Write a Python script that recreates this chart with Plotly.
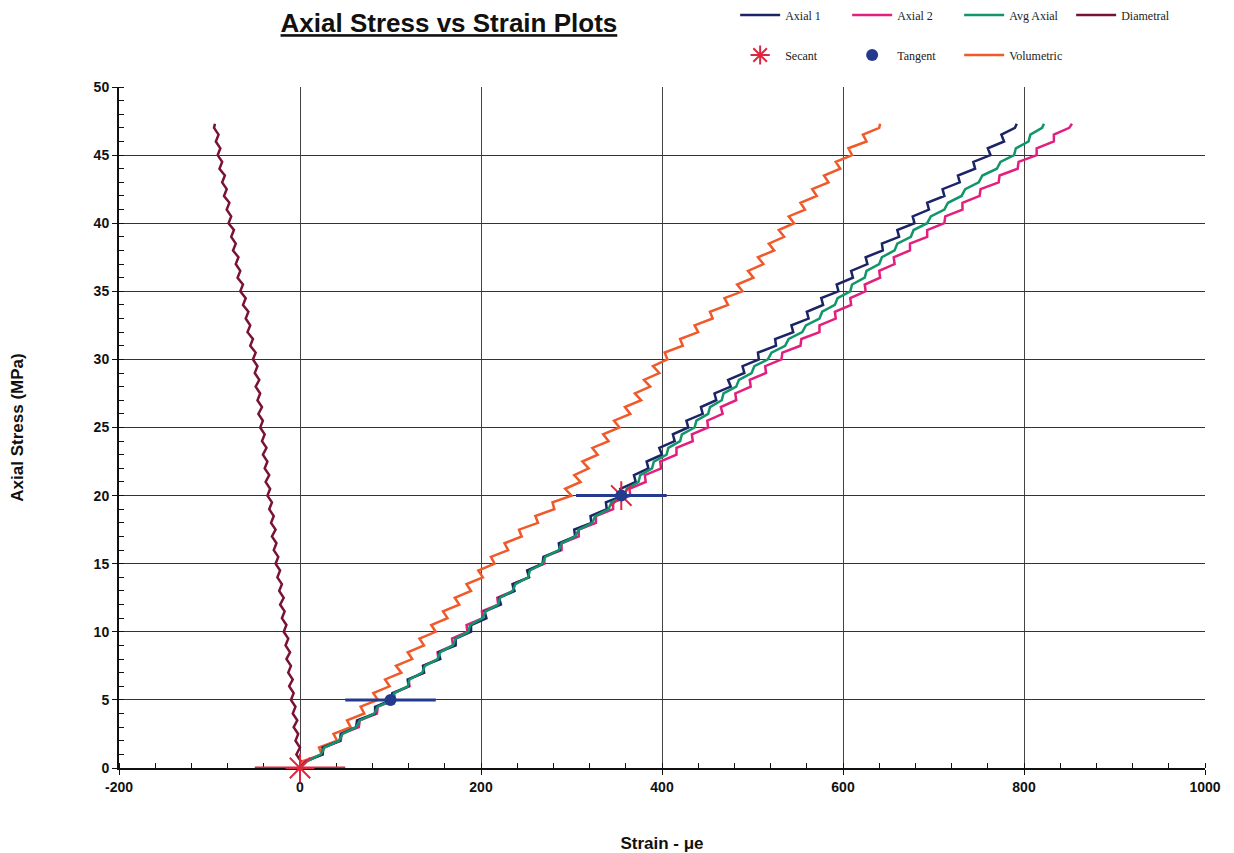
import plotly.graph_objects as go

# Axial stress levels (MPa) at which strains were read
stress = [0, 0.5, 1, 1.5, 2, 2.5, 3, 3.5, 4, 4.5,
          5, 5.5, 6, 6.5, 7, 7.5, 8, 8.5, 9, 9.5,
          10, 10.5, 11, 11.5, 12, 12.5, 13, 13.5, 14, 14.5,
          15, 15.5, 16, 16.5, 17, 17.5, 18, 18.5, 19, 19.5,
          20, 20.5, 21, 21.5, 22, 22.5, 23, 23.5, 24, 24.5,
          25, 25.5, 26, 26.5, 27, 27.5, 28, 28.5, 29, 29.5,
          30, 30.5, 31, 31.5, 32, 32.5, 33, 33.5, 34, 34.5,
          35, 35.5, 36, 36.5, 37, 37.5, 38, 38.5, 39, 39.5,
          40, 40.5, 41, 41.5, 42, 42.5, 43, 43.5, 44, 44.5,
          45, 45.5, 46, 46.5, 47, 47.3]

# Strains (micro-strain) read at each stress level
axial1 = [0, 7, 25, 25, 44, 45, 62, 63, 83, 83,
          101, 102, 120, 119, 137, 136, 155, 153, 172, 172,
          189, 189, 206, 204, 222, 220, 237, 235, 253, 251,
          268, 269, 287, 286, 304, 303, 322, 321, 339, 338,
          357, 354, 371, 369, 385, 383, 400, 397, 414, 412,
          429, 427, 445, 443, 460, 458, 476, 473, 491, 489,
          507, 506, 526, 525, 545, 543, 562, 560, 578, 576,
          595, 593, 611, 609, 627, 625, 644, 643, 662, 660,
          679, 677, 695, 693, 712, 710, 729, 727, 746, 744,
          763, 760, 778, 775, 790, 792]
axial2 = [0, 6, 25, 26, 45, 46, 65, 66, 85, 86,
          105, 104, 121, 120, 137, 136, 153, 152, 169, 168,
          185, 184, 202, 201, 219, 218, 236, 235, 253, 252,
          270, 270, 289, 289, 308, 308, 327, 327, 346, 346,
          365, 364, 382, 381, 399, 398, 416, 416, 434, 433,
          451, 450, 467, 465, 482, 481, 498, 497, 515, 514,
          532, 533, 553, 554, 574, 574, 592, 591, 609, 608,
          625, 624, 641, 640, 657, 656, 674, 674, 693, 693,
          712, 713, 732, 732, 751, 752, 772, 773, 793, 794,
          814, 814, 833, 833, 850, 853]
avg_axial = [0, 8, 23, 27, 43, 47, 62, 66, 82, 86,
             102, 104, 119, 121, 135, 138, 152, 155, 169, 172,
             186, 188, 202, 205, 219, 221, 235, 238, 252, 254,
             268, 271, 286, 289, 304, 308, 323, 326, 341, 344,
             359, 361, 374, 376, 389, 391, 405, 407, 420, 422,
             436, 438, 451, 453, 466, 468, 482, 485, 499, 502,
             517, 521, 536, 540, 555, 559, 574, 577, 591, 594,
             608, 610, 624, 626, 640, 643, 657, 660, 675, 678,
             693, 697, 712, 716, 731, 735, 750, 754, 770, 774,
             789, 791, 805, 807, 820, 822]
diametral = [0, 1, -4, 0, -5, -2, -7, -3, -8, -5,
             -10, -7, -12, -8, -13, -10, -15, -11, -16, -13,
             -18, -15, -20, -17, -22, -18, -23, -20, -25, -22,
             -27, -24, -29, -26, -31, -27, -32, -29, -34, -31,
             -36, -33, -38, -34, -39, -36, -41, -37, -42, -39,
             -44, -41, -46, -42, -47, -44, -49, -45, -50, -47,
             -52, -49, -55, -52, -58, -55, -60, -57, -63, -60,
             -66, -63, -69, -66, -71, -68, -74, -71, -76, -73,
             -79, -76, -81, -78, -84, -81, -86, -83, -89, -86,
             -91, -88, -93, -90, -95, -94]
volumetric = [0, 3, 24, 21, 41, 37, 56, 52, 71, 67,
              86, 81, 99, 94, 112, 106, 124, 119, 137, 132,
              150, 145, 163, 158, 176, 171, 189, 184, 202, 197,
              215, 211, 230, 226, 245, 242, 263, 260, 281, 279,
              300, 293, 310, 303, 319, 312, 329, 323, 341, 335,
              353, 347, 365, 359, 377, 370, 387, 380, 397, 390,
              406, 403, 423, 420, 440, 436, 456, 453, 473, 469,
              489, 483, 501, 495, 512, 506, 524, 518, 535, 529,
              546, 540, 558, 553, 571, 566, 584, 579, 597, 592,
              610, 606, 626, 622, 640, 641]

secant_x = [0, 355]
secant_y = [0, 20]
tangent_x = [100, 355]
tangent_y = [5, 20]
bar_half = [50, 50]

x_ticks = [-200, 0, 200, 400, 600, 800, 1000]
y_ticks = [0, 5, 10, 15, 20, 25, 30, 35, 40, 45, 50]

C_AX1 = "#1b2466"
C_AX2 = "#e21f7e"
C_AVG = "#11956a"
C_DIA = "#7a1232"
C_VOL = "#f0592a"
C_SEC = "#e0253f"
C_TAN = "#243a8f"

fig = go.Figure()

def line(x, name, color, rank, legend):
    fig.add_trace(go.Scatter(x=x, y=stress, mode="lines", name=name,
                             line=dict(color=color, width=2.5),
                             legendrank=rank, legend=legend))

line(diametral, "Diametral", C_DIA, 4, "legend")
line(volumetric, "Volumetric", C_VOL, 7, "legend2")
line(axial2, "Axial 2", C_AX2, 2, "legend")
line(axial1, "Axial 1", C_AX1, 1, "legend")
line(avg_axial, "Avg Axial", C_AVG, 3, "legend")

fig.add_trace(go.Scatter(x=secant_x, y=secant_y, mode="markers", name="Secant",
                         marker=dict(symbol="asterisk-open", size=24, color=C_SEC,
                                     line=dict(color=C_SEC, width=2)),
                         error_x=dict(type="data", array=bar_half, color=C_SEC,
                                      thickness=3, width=0),
                         cliponaxis=False,
                         legendrank=5, legend="legend2"))
fig.add_trace(go.Scatter(x=tangent_x, y=tangent_y, mode="markers", name="Tangent",
                         marker=dict(symbol="circle", size=12, color=C_TAN),
                         error_x=dict(type="data", array=bar_half, color=C_TAN,
                                      thickness=3, width=0),
                         cliponaxis=False,
                         legendrank=6, legend="legend2"))

ARIAL = "Arial, Liberation Sans, sans-serif"
axis_font = dict(family=ARIAL, size=14, color="#111", weight="bold")
leg_common = dict(orientation="h", xref="container", yref="container",
                  x=0.597, xanchor="left", yanchor="middle",
                  itemwidth=40, entrywidth=57, entrywidthmode="pixels",
                  traceorder="normal",
                  font=dict(family="Liberation Serif, Times New Roman, serif", size=12,
                            color="#222"),
                  bgcolor="rgba(0,0,0,0)")

fig.update_layout(
    width=1218, height=845,
    paper_bgcolor="white", plot_bgcolor="white",
    margin=dict(l=111, r=21, t=79, b=85, autoexpand=False),
    title=dict(text="<u><b>Axial Stress vs Strain Plots</b></u>", xref="container",
               yref="container", x=0.362, xanchor="center", y=0.9822, yanchor="middle",
               font=dict(family=ARIAL, size=26, color="#111")),
    legend=dict(y=0.9917, **leg_common),
    legend2=dict(y=0.9444, **leg_common),
    xaxis=dict(range=[-200, 1000], tickvals=x_ticks, ticktext=[str(v) for v in x_ticks],
               automargin=False, layer="below traces",
               showgrid=True, gridcolor="#444", gridwidth=1, zeroline=False,
               showline=True, linecolor="#111", linewidth=2,
               ticks="outside", ticklen=5, tickcolor="#111",
               minor=dict(dtick=40, tick0=0, ticks="inside", ticklen=5, tickcolor="#111",
                          showgrid=False),
               tickfont=axis_font,
               title=dict(text="<b>Strain - \u03bce</b>", standoff=52,
                          font=dict(family=ARIAL, size=17, color="#111"))),
    yaxis=dict(range=[0, 50], tickvals=y_ticks, ticktext=[str(v) for v in y_ticks],
               automargin=False, layer="below traces",
               showgrid=True, gridcolor="#333", gridwidth=1, zeroline=False,
               showline=True, linecolor="#111", linewidth=2,
               ticks="outside", ticklen=5, tickcolor="#111",
               minor=dict(dtick=1, tick0=0, ticks="inside", ticklen=5, tickcolor="#111",
                          showgrid=False),
               tickfont=axis_font,
               title=dict(text="<b>Axial Stress (MPa)</b>", standoff=72,
                          font=dict(family=ARIAL, size=17, color="#111"))),
)

fig.write_html("out.html")
